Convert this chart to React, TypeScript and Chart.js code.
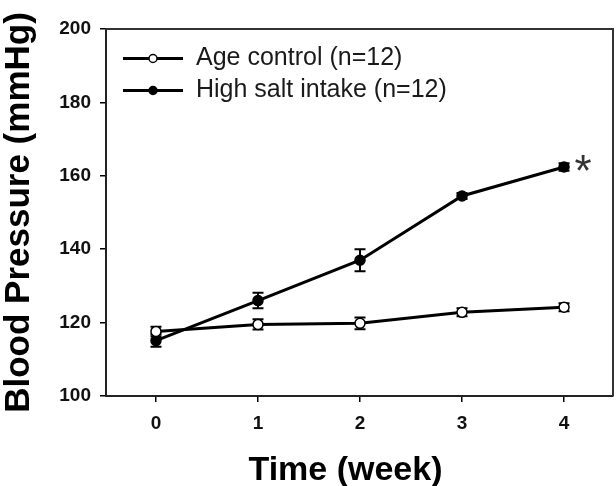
import React, { useEffect, useRef } from "react";
import { Chart, registerables } from "chart.js";

Chart.register(...registerables);

const WEEKS = [0, 1, 2, 3, 4];
const CONTROL = [117.6, 119.5, 119.8, 122.8, 124.2];
const CONTROL_ERR = [1.3, 1.4, 1.6, 1.1, 1.1];
const SALT = [115.1, 126.0, 137.0, 154.5, 162.4];
const SALT_ERR = [1.7, 2.1, 3.0, 0.8, 1.0];
const X_TICKS = [0, 1, 2, 3, 4];
const Y_TICKS = [100, 120, 140, 160, 180, 200];
const SERIES_LABELS = ["Age control (n=12)", "High salt intake (n=12)"];
const SIG_MARK = "*";
const X_TITLE = "Time (week)";
const Y_TITLE = "Blood Pressure (mmHg)";

const FONT = "'Liberation Sans', Arial, Helvetica, sans-serif";

const frameAndExtras = {
  id: "frameAndExtras",
  beforeDatasetsDraw(chart: any) {
    const ctx = chart.ctx;
    const ys = chart.scales.y;
    const errs = [CONTROL_ERR, SALT_ERR];
    const vals = [CONTROL, SALT];
    ctx.save();
    ctx.strokeStyle = "#000";
    ctx.lineWidth = 2;
    chart.data.datasets.forEach((_: any, di: number) => {
      const meta = chart.getDatasetMeta(di);
      meta.data.forEach((pt: any, i: number) => {
        const x = pt.x;
        const top = ys.getPixelForValue(vals[di][i] + errs[di][i]);
        const bot = ys.getPixelForValue(vals[di][i] - errs[di][i]);
        ctx.beginPath();
        ctx.moveTo(x, top);
        ctx.lineTo(x, bot);
        ctx.moveTo(x - 5.5, top);
        ctx.lineTo(x + 5.5, top);
        ctx.moveTo(x - 5.5, bot);
        ctx.lineTo(x + 5.5, bot);
        ctx.stroke();
      });
    });
    ctx.restore();
  },
  afterDraw(chart: any) {
    const ctx = chart.ctx;
    const area = chart.chartArea;
    ctx.save();
    // frame top & right
    ctx.strokeStyle = "#333";
    ctx.lineWidth = 2;
    ctx.beginPath();
    ctx.moveTo(area.left, area.top);
    ctx.lineTo(area.right, area.top);
    ctx.lineTo(area.right, area.bottom);
    ctx.stroke();

    // legend
    const rows = [58.5, 90.5];
    chart.data.datasets.forEach((ds: any, di: number) => {
      const y = rows[di];
      ctx.strokeStyle = "#000";
      ctx.lineWidth = 3;
      ctx.beginPath();
      ctx.moveTo(123, y);
      ctx.lineTo(183, y);
      ctx.stroke();
      ctx.beginPath();
      ctx.arc(153, y, 4, 0, Math.PI * 2);
      ctx.fillStyle = ds.pointBackgroundColor;
      ctx.fill();
      ctx.lineWidth = 1.5;
      ctx.stroke();
      ctx.fillStyle = "#1a1a1a";
      ctx.font = `25px ${FONT}`;
      ctx.textAlign = "left";
      ctx.textBaseline = "middle";
      ctx.fillText(ds.label, 196, y);
    });

    // x axis title
    ctx.fillStyle = "#000";
    ctx.font = `bold 34px ${FONT}`;
    ctx.textAlign = "center";
    ctx.textBaseline = "alphabetic";
    ctx.fillText(X_TITLE, 345.5, 480);

    // significance mark
    const meta = chart.getDatasetMeta(1);
    const last = meta.data[meta.data.length - 1];
    ctx.fillStyle = "#333";
    ctx.font = `44px ${FONT}`;
    ctx.textAlign = "center";
    ctx.textBaseline = "alphabetic";
    ctx.fillText(SIG_MARK, last.x + 19, last.y + 19);
    ctx.restore();
  },
};

export default function App() {
  const ref = useRef<HTMLCanvasElement | null>(null);
  useEffect(() => {
    if (!ref.current) return;
    const chart = new Chart(ref.current, {
      type: "line",
      data: {
        datasets: [
          {
            label: SERIES_LABELS[0],
            data: WEEKS.map((w, i) => ({ x: w, y: CONTROL[i] })),
            borderColor: "#000",
            borderWidth: 3,
            pointRadius: 5,
            pointBorderWidth: 1.5,
            pointBackgroundColor: "#fff",
            pointBorderColor: "#000",
            tension: 0,
          },
          {
            label: SERIES_LABELS[1],
            data: WEEKS.map((w, i) => ({ x: w, y: SALT[i] })),
            borderColor: "#000",
            borderWidth: 3,
            pointRadius: 5,
            pointBorderWidth: 1.5,
            pointBackgroundColor: "#000",
            pointBorderColor: "#000",
            tension: 0,
          },
        ],
      },
      options: {
        animation: false,
        responsive: false,
        devicePixelRatio: 1,
        layout: { autoPadding: false, padding: { top: 29, right: 3, left: 0, bottom: 0 } },
        plugins: { legend: { display: false }, tooltip: { enabled: false } },
        scales: {
          x: {
            type: "linear",
            min: -0.49,
            max: 4.48,
            afterFit: (s: any) => {
              s.height = 90;
            },
            afterBuildTicks: (s: any) => {
              s.ticks = X_TICKS.map((v) => ({ value: v }));
            },
            grid: { drawOnChartArea: false, tickLength: 6, color: "#000", lineWidth: 1.5 },
            border: { display: true, color: "#222", width: 2 },
            ticks: {
              padding: 10,
              color: "#111",
              font: { family: FONT, size: 19, weight: "bold" },
              callback: (v: any) => String(v),
            },
            title: { display: false, text: X_TITLE },
          },
          y: {
            type: "linear",
            min: 100,
            max: 200,
            afterFit: (s: any) => {
              s.width = 106;
            },
            afterBuildTicks: (s: any) => {
              s.ticks = Y_TICKS.map((v) => ({ value: v }));
            },
            grid: { drawOnChartArea: false, tickLength: 6, color: "#000", lineWidth: 1.5 },
            border: { display: true, color: "#222", width: 2 },
            ticks: {
              padding: 9,
              color: "#111",
              font: { family: FONT, size: 19, weight: "bold" },
              callback: (v: any) => String(v),
            },
            title: {
              display: true,
              text: Y_TITLE,
              color: "#000",
              font: { family: FONT, size: 35, weight: "bold", lineHeight: 1 },
              padding: { top: 2, bottom: 0 },
            },
          },
        },
      },
      plugins: [frameAndExtras],
    } as any);
    return () => chart.destroy();
  }, []);
  return (
    <div style={{ position: "absolute", left: 0, top: 0, width: 616, height: 486, background: "#fff" }}>
      <canvas ref={ref} width={616} height={486} style={{ display: "block" }} />
    </div>
  );
}
